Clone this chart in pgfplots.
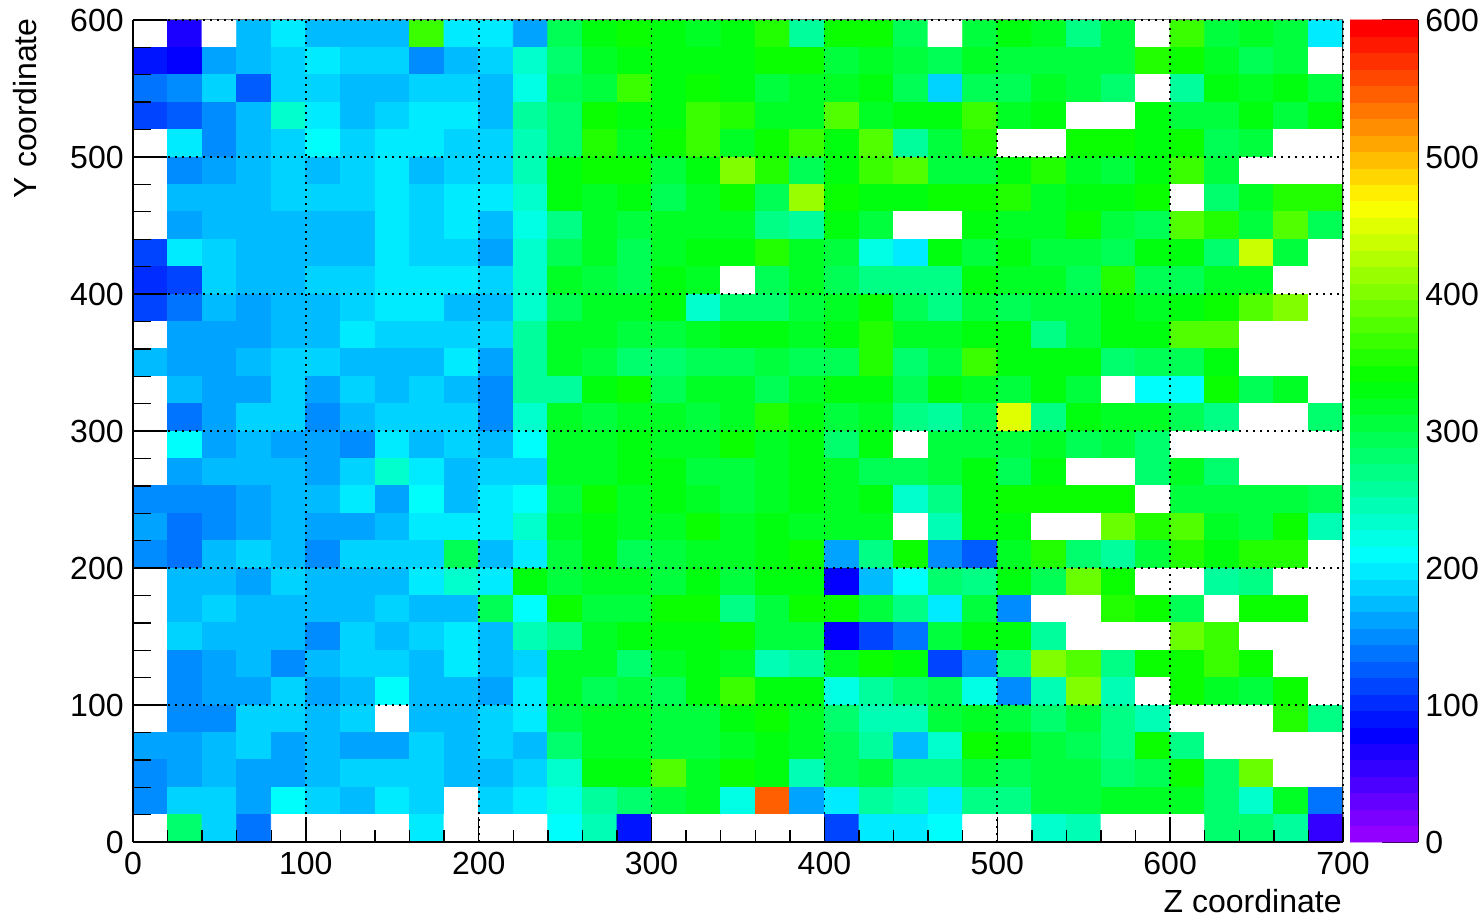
\documentclass[border=0pt]{standalone}
\usepackage{pgfplots}
\pgfplotsset{compat=1.18}
\usepackage{fontspec}
\setmainfont{Liberation Sans}
\pgfplotsset{colormap={rootw}{rgb255=(255,255,255)
rgb255=(146,0,255) rgb255=(122,0,255) rgb255=(99,0,255) rgb255=(75,0,255) rgb255=(51,0,255)
rgb255=(27,0,255) rgb255=(3,0,255) rgb255=(0,20,255) rgb255=(0,44,255) rgb255=(0,68,255)
rgb255=(0,92,255) rgb255=(0,116,255) rgb255=(0,139,255) rgb255=(0,163,255) rgb255=(0,187,255)
rgb255=(0,211,255) rgb255=(0,235,255) rgb255=(0,255,252) rgb255=(0,255,228) rgb255=(0,255,204)
rgb255=(0,255,180) rgb255=(0,255,156) rgb255=(0,255,133) rgb255=(0,255,109) rgb255=(0,255,85)
rgb255=(0,255,61) rgb255=(0,255,37) rgb255=(0,255,14) rgb255=(10,255,0) rgb255=(34,255,0)
rgb255=(58,255,0) rgb255=(82,255,0) rgb255=(105,255,0) rgb255=(129,255,0) rgb255=(153,255,0)
rgb255=(177,255,0) rgb255=(201,255,0) rgb255=(224,255,0) rgb255=(248,255,0) rgb255=(255,238,0)
rgb255=(255,214,0) rgb255=(255,190,0) rgb255=(255,167,0) rgb255=(255,143,0) rgb255=(255,119,0)
rgb255=(255,95,0) rgb255=(255,71,0) rgb255=(255,48,0) rgb255=(255,24,0) rgb255=(255,0,0)}}
\newcommand{\lab}{\fontsize{16}{19}\selectfont}
\pgfplotsset{common/.style={scale only axis, enlargelimits=false,
  /pgf/number format/assume math mode=true, tick align=inside,
  tick style={black,line width=0.7pt},
  grid style={black,line width=0.9pt,dash pattern=on 0.9pt off 2.6pt},
  axis line style={black,line width=0.9pt},
  colormap name=rootw, colormap access=piecewise constant,
  point meta min=-12, point meta max=600}}
\begin{document}
\begin{tikzpicture}
\useasboundingbox (0,0) rectangle (741.5pt,458.5pt);
\begin{axis}[common, at={(66.5pt,37.5pt)}, anchor=south west, width=605pt, height=411pt,
  xmin=0, xmax=700, ymin=0, ymax=600, axis on top,
  axis x line*=bottom, hide y axis,
  xtick={0,100,...,700}, minor x tick num=4, xmajorgrids=true,
  major tick length=12.5pt, minor tick length=6pt,
  every x tick label/.append style={font=\lab, inner sep=0pt, yshift=-5pt}]
\addplot[matrix plot*, mesh/cols=35, mesh/rows=30, point meta=explicit]
 table[row sep=crcr, x expr={10+20*mod(\coordindex,35)}, y expr={590-20*floor((\coordindex+0.5)/35)}, meta=v] {
v\\
-6\\66\\-6\\174\\198\\174\\174\\174\\366\\198\\198\\162\\294\\330\\342\\330\\318\\330\\354\\258\\342\\342\\294\\-6\\306\\330\\318\\270\\306\\-6\\366\\306\\318\\306\\198\\
90\\78\\162\\174\\186\\198\\186\\186\\150\\174\\186\\234\\282\\318\\330\\330\\330\\330\\342\\342\\306\\318\\306\\294\\318\\306\\306\\306\\306\\354\\342\\318\\294\\306\\-6\\
138\\150\\186\\126\\186\\186\\174\\174\\186\\186\\174\\222\\294\\306\\366\\330\\342\\330\\306\\318\\318\\330\\294\\186\\294\\294\\318\\306\\282\\-6\\258\\330\\318\\330\\306\\
114\\126\\150\\174\\234\\198\\174\\186\\198\\198\\174\\258\\282\\342\\330\\330\\366\\354\\318\\318\\378\\318\\330\\330\\366\\318\\330\\-6\\-6\\330\\306\\306\\330\\306\\330\\
-6\\198\\150\\174\\186\\210\\186\\198\\198\\186\\186\\246\\282\\354\\318\\342\\366\\318\\342\\366\\330\\378\\258\\306\\354\\-6\\-6\\342\\342\\330\\342\\294\\306\\-6\\-6\\
-6\\150\\162\\174\\186\\174\\186\\198\\174\\186\\186\\246\\330\\342\\342\\306\\330\\402\\354\\294\\330\\366\\378\\306\\306\\330\\354\\318\\306\\330\\366\\306\\-6\\-6\\-6\\
-6\\174\\174\\174\\186\\186\\186\\198\\186\\198\\198\\234\\330\\318\\330\\294\\318\\342\\294\\414\\342\\330\\330\\342\\342\\354\\318\\330\\330\\342\\-6\\282\\318\\354\\354\\
-6\\162\\174\\174\\174\\174\\174\\198\\186\\198\\174\\222\\270\\318\\306\\318\\318\\318\\270\\258\\330\\306\\-6\\-6\\330\\318\\318\\342\\306\\294\\378\\354\\306\\378\\294\\
114\\198\\186\\174\\174\\174\\174\\198\\186\\186\\162\\234\\294\\318\\294\\318\\330\\330\\354\\318\\306\\222\\198\\330\\306\\330\\306\\306\\294\\330\\330\\282\\438\\306\\-6\\
102\\114\\186\\174\\174\\186\\186\\198\\198\\198\\186\\234\\318\\306\\294\\330\\318\\-6\\294\\318\\294\\270\\270\\270\\330\\318\\318\\294\\354\\294\\294\\318\\318\\-6\\-6\\
114\\138\\174\\162\\174\\174\\186\\198\\198\\174\\174\\234\\294\\318\\318\\330\\234\\282\\282\\306\\318\\342\\294\\270\\306\\294\\306\\306\\330\\318\\330\\342\\378\\402\\-6\\
-6\\162\\162\\162\\174\\174\\198\\186\\186\\186\\186\\258\\318\\318\\306\\306\\318\\330\\330\\318\\330\\354\\318\\318\\330\\330\\270\\306\\330\\330\\378\\378\\-6\\-6\\-6\\
174\\162\\162\\174\\186\\186\\174\\174\\174\\198\\162\\258\\318\\306\\282\\282\\294\\294\\306\\294\\294\\354\\282\\306\\366\\330\\330\\330\\282\\294\\294\\330\\-6\\-6\\-6\\
-6\\174\\162\\162\\186\\162\\186\\174\\186\\174\\150\\258\\258\\330\\342\\294\\318\\318\\294\\318\\330\\330\\294\\330\\318\\306\\330\\306\\-6\\210\\210\\342\\294\\318\\-6\\
-6\\138\\162\\186\\186\\150\\174\\186\\186\\186\\150\\234\\318\\306\\318\\318\\306\\318\\354\\330\\306\\318\\270\\258\\294\\450\\270\\330\\318\\318\\294\\270\\-6\\-6\\282\\
-6\\210\\162\\174\\162\\162\\150\\198\\174\\186\\174\\210\\318\\318\\330\\318\\318\\342\\318\\330\\282\\330\\-6\\306\\306\\306\\318\\294\\306\\282\\-6\\-6\\-6\\-6\\-6\\
-6\\162\\174\\174\\174\\162\\186\\234\\198\\174\\186\\186\\318\\318\\330\\330\\306\\306\\318\\330\\318\\294\\294\\306\\330\\294\\330\\-6\\-6\\282\\318\\282\\-6\\-6\\-6\\
150\\150\\150\\162\\174\\174\\198\\162\\210\\174\\198\\210\\306\\342\\318\\330\\318\\306\\318\\330\\318\\330\\234\\270\\330\\342\\342\\342\\342\\-6\\306\\306\\306\\306\\294\\
162\\138\\150\\162\\174\\162\\162\\174\\198\\198\\198\\234\\318\\330\\318\\318\\342\\318\\330\\318\\318\\318\\-6\\246\\330\\330\\-6\\-6\\390\\354\\378\\318\\306\\342\\246\\
150\\138\\174\\186\\174\\150\\186\\186\\186\\294\\174\\198\\306\\330\\294\\306\\318\\318\\330\\342\\162\\270\\342\\150\\126\\318\\354\\282\\258\\306\\354\\330\\354\\354\\-6\\
-6\\174\\174\\162\\186\\174\\174\\174\\198\\234\\198\\330\\306\\318\\318\\306\\330\\306\\330\\330\\78\\174\\210\\282\\270\\330\\294\\390\\342\\-6\\-6\\258\\270\\-6\\-6\\
-6\\174\\186\\174\\174\\174\\174\\186\\174\\174\\294\\210\\342\\306\\306\\342\\342\\270\\306\\342\\342\\306\\270\\198\\306\\150\\-6\\-6\\354\\342\\294\\-6\\342\\342\\-6\\
-6\\186\\174\\174\\174\\150\\186\\174\\186\\198\\174\\246\\270\\318\\330\\330\\330\\342\\306\\306\\78\\114\\138\\306\\330\\330\\258\\-6\\-6\\-6\\390\\366\\-6\\-6\\-6\\
-6\\150\\162\\174\\150\\174\\186\\186\\174\\198\\174\\186\\318\\318\\282\\318\\330\\318\\246\\258\\318\\342\\330\\114\\150\\270\\402\\378\\270\\342\\342\\366\\342\\-6\\-6\\
-6\\150\\162\\162\\186\\162\\174\\210\\174\\174\\162\\198\\318\\294\\306\\294\\330\\366\\330\\330\\222\\258\\282\\294\\222\\150\\246\\402\\246\\-6\\342\\318\\306\\342\\-6\\
-6\\150\\150\\186\\186\\174\\186\\-6\\174\\174\\186\\198\\306\\318\\318\\306\\306\\330\\342\\318\\282\\246\\246\\306\\318\\306\\282\\306\\270\\246\\-6\\-6\\-6\\354\\270\\
162\\162\\174\\186\\162\\174\\162\\162\\186\\174\\186\\174\\282\\318\\318\\306\\306\\318\\330\\318\\294\\258\\174\\234\\342\\330\\306\\294\\270\\342\\270\\-6\\-6\\-6\\-6\\
150\\162\\174\\162\\162\\174\\186\\186\\186\\174\\174\\186\\234\\330\\330\\378\\318\\342\\330\\246\\294\\306\\270\\270\\306\\294\\306\\306\\282\\294\\342\\282\\390\\-6\\-6\\
150\\186\\186\\162\\210\\186\\174\\198\\186\\-6\\186\\198\\222\\258\\282\\306\\318\\222\\546\\162\\198\\258\\246\\198\\270\\270\\306\\306\\318\\318\\318\\282\\234\\318\\138\\
-6\\282\\186\\138\\-6\\-6\\-6\\-6\\198\\-6\\-6\\-6\\210\\246\\90\\-6\\-6\\-6\\-6\\-6\\114\\198\\198\\210\\-6\\-6\\234\\246\\-6\\-6\\-6\\282\\282\\258\\54\\
};
\draw[black!55,line width=0.5pt] (axis cs:0,600) -- (axis cs:700,600);
\draw[black!80,line width=0.6pt] (axis cs:700,0) -- (axis cs:700,600);
\end{axis}
\begin{axis}[common, at={(66.5pt,37.5pt)}, anchor=south west, width=605pt, height=411pt,
  xmin=0, xmax=700, ymin=0, ymax=600,
  hide x axis, axis y line*=left,
  ytick={0,100,...,600}, minor y tick num=4, ymajorgrids=true,
  major tick length=17pt, minor tick length=9pt,
  every y tick label/.append style={font=\lab, inner sep=0pt, xshift=-4.5pt}]
\addplot[draw=none] coordinates {(0,0)};
\end{axis}
\begin{axis}[common, at={(675pt,37.5pt)}, anchor=south west, width=34pt, height=411pt,
  xmin=0, xmax=1, ymin=0, ymax=600,
  hide x axis, axis y line*=right,
  ytick={0,100,...,600}, major tick length=18pt,
  every y tick label/.append style={font=\lab, inner sep=0pt, xshift=3.5pt}]
\addplot[matrix plot*, mesh/cols=2, point meta=explicit]
 table[row sep=crcr, meta=v] {
x y v\\
0.25 6 6\\0.75 6 6\\0.25 18 18\\0.75 18 18\\0.25 30 30\\0.75 30 30\\0.25 42 42\\0.75 42 42\\0.25 54 54\\0.75 54 54\\
0.25 66 66\\0.75 66 66\\0.25 78 78\\0.75 78 78\\0.25 90 90\\0.75 90 90\\0.25 102 102\\0.75 102 102\\0.25 114 114\\0.75 114 114\\
0.25 126 126\\0.75 126 126\\0.25 138 138\\0.75 138 138\\0.25 150 150\\0.75 150 150\\0.25 162 162\\0.75 162 162\\0.25 174 174\\0.75 174 174\\
0.25 186 186\\0.75 186 186\\0.25 198 198\\0.75 198 198\\0.25 210 210\\0.75 210 210\\0.25 222 222\\0.75 222 222\\0.25 234 234\\0.75 234 234\\
0.25 246 246\\0.75 246 246\\0.25 258 258\\0.75 258 258\\0.25 270 270\\0.75 270 270\\0.25 282 282\\0.75 282 282\\0.25 294 294\\0.75 294 294\\
0.25 306 306\\0.75 306 306\\0.25 318 318\\0.75 318 318\\0.25 330 330\\0.75 330 330\\0.25 342 342\\0.75 342 342\\0.25 354 354\\0.75 354 354\\
0.25 366 366\\0.75 366 366\\0.25 378 378\\0.75 378 378\\0.25 390 390\\0.75 390 390\\0.25 402 402\\0.75 402 402\\0.25 414 414\\0.75 414 414\\
0.25 426 426\\0.75 426 426\\0.25 438 438\\0.75 438 438\\0.25 450 450\\0.75 450 450\\0.25 462 462\\0.75 462 462\\0.25 474 474\\0.75 474 474\\
0.25 486 486\\0.75 486 486\\0.25 498 498\\0.75 498 498\\0.25 510 510\\0.75 510 510\\0.25 522 522\\0.75 522 522\\0.25 534 534\\0.75 534 534\\
0.25 546 546\\0.75 546 546\\0.25 558 558\\0.75 558 558\\0.25 570 570\\0.75 570 570\\0.25 582 582\\0.75 582 582\\0.25 594 594\\0.75 594 594\\
};
\end{axis}
\node[font=\lab, anchor=base east, inner sep=0pt] at (671pt,2.5pt) {Z coordinate};
\node[font=\lab, rotate=90, anchor=base east, inner sep=0pt] at (18pt,449.5pt) {Y coordinate};
\end{tikzpicture}
\end{document}
